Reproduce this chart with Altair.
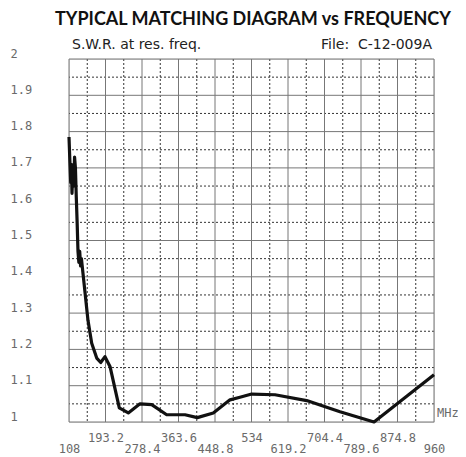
import altair as alt
import pandas as pd

# ---- data ----
freq_mhz = [108, 110, 112, 113.5, 115, 117, 119, 121, 123, 125, 127, 129, 131, 133, 135, 137,
            152.3, 161, 172.7, 182, 192, 203.7, 225.4, 246.4, 273.7, 301, 336, 378.8, 407.5,
            444.8, 483.8, 507, 534.5, 588.9, 662.8, 740.6, 820, 960]
swr = [1.785, 1.72, 1.66, 1.71, 1.63, 1.70, 1.65, 1.73, 1.70, 1.62, 1.55, 1.47, 1.44, 1.47, 1.43, 1.45,
       1.28, 1.217, 1.176, 1.164, 1.18, 1.153, 1.039, 1.025, 1.05, 1.048, 1.02, 1.02, 1.012,
       1.025, 1.061, 1.068, 1.077, 1.075, 1.059, 1.028, 1.0, 1.13]

x_major = [108, 193.2, 278.4, 363.6, 448.8, 534, 619.2, 704.4, 789.6, 874.8, 960]
x_minor = [150.6, 235.8, 321.0, 406.2, 491.4, 576.6, 661.8, 747.0, 832.2, 917.4]
y_major = [1.0, 1.1, 1.2, 1.3, 1.4, 1.5, 1.6, 1.7, 1.8, 1.9, 2.0]
y_minor = [1.05, 1.15, 1.25, 1.35, 1.45, 1.55, 1.65, 1.75, 1.85, 1.95]

title_text = "TYPICAL MATCHING DIAGRAM vs FREQUENCY"
left_note = "S.W.R. at res. freq."
right_note = "File:\u00a0 C-12-009A"
unit_text = "MHz"

curve = pd.DataFrame({"f": freq_mhz, "swr": swr})
vmaj = pd.DataFrame({"f": x_major})
vmin = pd.DataFrame({"f": x_minor})
hmaj = pd.DataFrame({"swr": y_major})
hmin = pd.DataFrame({"swr": y_minor})

xs = alt.Scale(domain=[108, 960], nice=False, zero=False)
ys = alt.Scale(domain=[1, 2], nice=False, zero=False)

LABEL_FONT = "DejaVu Sans Mono"
LABEL_COLOR = "#6a6a6a"

x_axis = alt.Axis(
    values=x_major, title=None, grid=False, ticks=False, tickSize=0, domain=False,
    labelFont=LABEL_FONT, labelFontSize=12, labelColor=LABEL_COLOR,
    labelOverlap=False, labelFlush=False, labelExpr="'' + datum.value",
    labelPadding=alt.condition("round((datum.value - 108) / 85.2) % 2 == 1",
                               alt.value(10), alt.value(21)),
    labelBaseline="top",
)
y_axis = alt.Axis(
    values=y_major, title=None, grid=False, ticks=False, tickSize=0, domain=False,
    labelFont=LABEL_FONT, labelFontSize=12, labelColor=LABEL_COLOR,
    labelAlign="left", labelPadding=59, labelOffset=-6, labelExpr="'' + datum.value",
    labelOverlap=False,
)

X = alt.X("f:Q", scale=xs, axis=x_axis)
Y = alt.Y("swr:Q", scale=ys, axis=y_axis)

minor_v = alt.Chart(vmin).mark_rule(color="#333333", strokeWidth=1, strokeDash=[2, 2]).encode(x=X)
minor_h = alt.Chart(hmin).mark_rule(color="#333333", strokeWidth=1, strokeDash=[2, 2]).encode(y=Y)
major_v = alt.Chart(vmaj).mark_rule(color="#777777", strokeWidth=1).encode(x=X)
major_h = alt.Chart(hmaj).mark_rule(color="#777777", strokeWidth=1).encode(y=Y)

line = alt.Chart(curve).mark_line(color="#111111", strokeWidth=3.2, strokeJoin="round").encode(
    x=X, y=Y)

notes_font = "DejaVu Sans"
left_t = alt.Chart(pd.DataFrame({"t": [left_note]})).mark_text(
    align="left", baseline="middle", font=notes_font, fontSize=14, color="#222222"
).encode(x=alt.value(3), y=alt.value(-14), text="t:N")
right_t = alt.Chart(pd.DataFrame({"t": [right_note]})).mark_text(
    align="right", baseline="middle", font=notes_font, fontSize=14, color="#222222"
).encode(x=alt.value(363), y=alt.value(-14), text="t:N")
unit_t = alt.Chart(pd.DataFrame({"t": [unit_text]})).mark_text(
    align="left", baseline="middle", font=LABEL_FONT, fontSize=12, color=LABEL_COLOR
).encode(x=alt.value(368), y=alt.value(354), text="t:N")

chart = alt.layer(minor_v, minor_h, major_v, major_h, line, left_t, right_t, unit_t).properties(
    width=365, height=363,
    title=alt.Title(title_text, anchor="start", frame="group", dx=-14, dy=-5, fontSize=18,
                    font="Lato", fontWeight="bold", color="#111111", offset=4),
    autosize=alt.AutoSizeParams(type="none"),
    padding={"left": 61, "top": 51, "right": 24, "bottom": 35},
).configure_view(stroke="#777777", strokeWidth=1).configure(background="white")

chart.save("out.html", embed_options={"renderer": "svg", "actions": False})
